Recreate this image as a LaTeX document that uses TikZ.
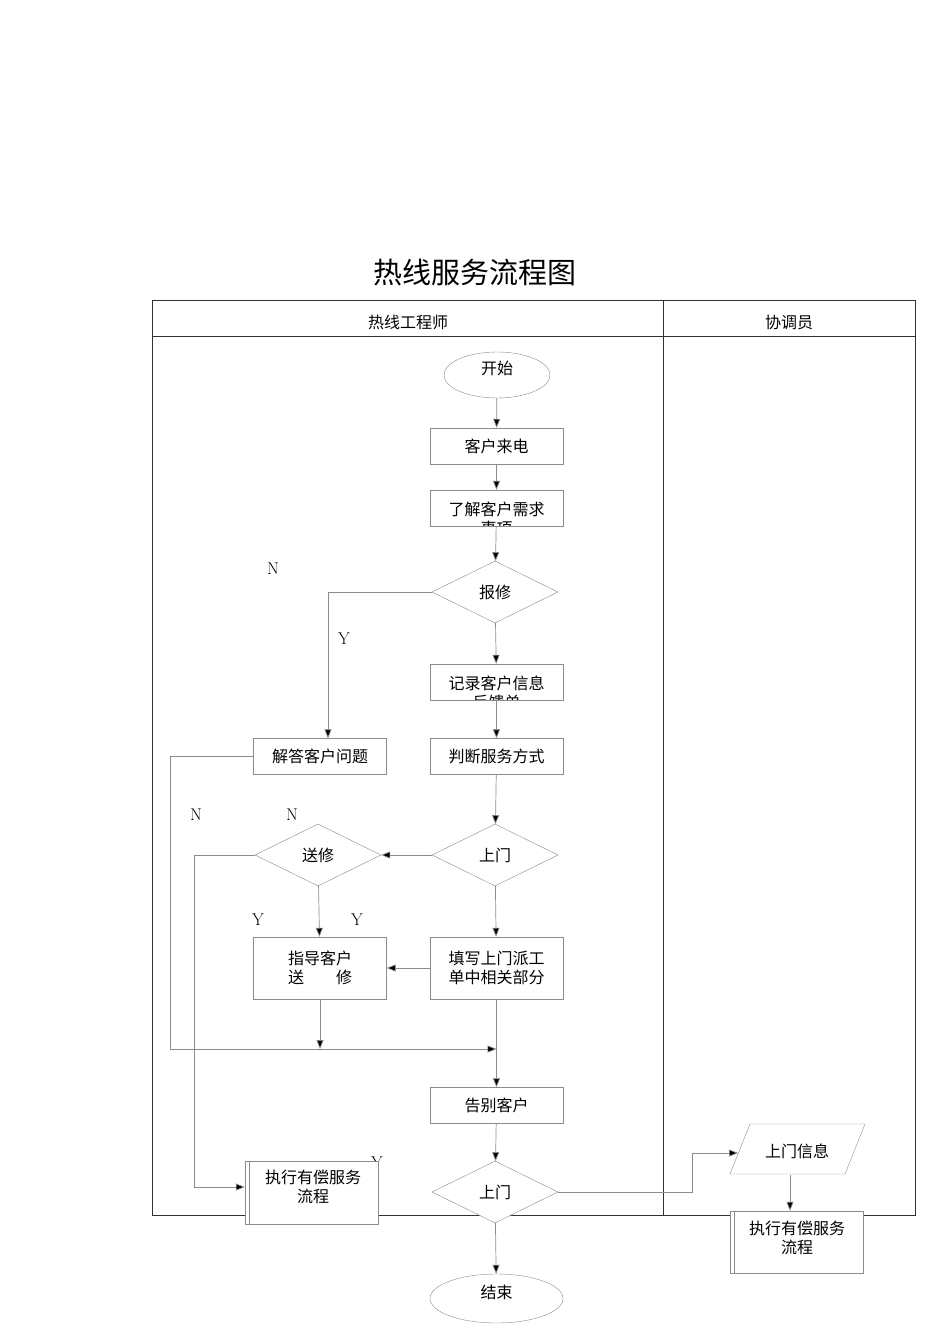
\documentclass[tikz,border=0pt]{standalone}
\usepackage{fontspec}
\newfontfamily\cjk{Noto Sans CJK SC}
\usetikzlibrary{shapes.geometric,arrows.meta}
\begin{document}
\begin{tikzpicture}[x=1pt,y=-1pt,
  every node/.style={font=\cjk\fontsize{16}{19}\selectfont},
  box/.style={draw=black!45,fill=white,minimum width=133pt,minimum height=36pt,inner sep=0pt,align=center},
  dia/.style={diamond,draw=black!45,fill=white,minimum width=126pt,minimum height=62pt,aspect=2,inner sep=0pt},
  ell/.style={ellipse,draw=black!45,fill=white,minimum width=106pt,minimum height=46pt},
  ln/.style={draw=black!45,line width=0.7pt},
  arr/.style={ln,-{Triangle[length=9pt,width=7pt,fill=black]}},
  lbl/.style={font=\fontsize{17}{20}\selectfont}]
\useasboundingbox (0,0) rectangle (950,1344);
\node[font=\cjk\fontsize{29}{34}\selectfont] (title) at (475,273) {热线服务流程图};
\draw[black!80,line width=0.8pt] (152,300) rectangle (915,1215);
\draw[black!80,line width=0.8pt] (152,336) -- (915,336) (663,300) -- (663,1215);
\node (h1) at (408,322) {热线工程师};
\node (h2) at (789,322) {协调员};

\node[ell] (start) at (497,375) {};
\node (startt) at (497,368) {开始};
\node[box] (call) at (496.5,446) {客户来电};
\begin{scope}
\clip (430,490) rectangle (563,526);
\node[box] (need) at (496.5,508) {};
\node[align=center] (needt) at (496.5,519) {了解客户需求\\事项};
\end{scope}
\draw[black!45] (430,490) rectangle (563,526);
\node[dia] (bx) at (495,592) {报修};
\begin{scope}
\clip (430,664) rectangle (563,700);
\node[box] (rec) at (496.5,682) {};
\node[align=center] (rect) at (496.5,693) {记录客户信息\\反馈单};
\end{scope}
\draw[black!45] (430,664) rectangle (563,700);
\node[box] (judge) at (496.5,756.5) {判断服务方式};
\node[box] (ans) at (320,756.5) {解答客户问题};
\node[dia] (sm) at (495,855) {上门};
\node[dia] (sx) at (318,855) {送修};
\node[box,minimum height=62pt] (guide) at (320,968) {指导客户\\送\hspace{2em}修};
\node[box,minimum height=62pt] (fill) at (496.5,968) {填写上门派工\\单中相关部分};
\node[box] (bye) at (496.5,1105.5) {告别客户};
\node[lbl] (ylab) at (377,1163) {Y};
\node[box,minimum height=63pt] (pay1) at (311.5,1192.5) {};
\draw[black!45] (249,1161) -- (249,1224);
\node[align=center] (pay1t) at (313,1187) {执行有偿服务\\流程};
\node[dia] (sm2) at (495,1192) {上门};
\node[ell,minimum width=133pt,minimum height=49pt] (end) at (496.5,1298.5) {};
\node (endt) at (496.5,1292) {结束};
\draw[black!45] (750,1124) -- (865,1124) -- (845,1174) -- (730,1174) -- cycle;
\node (infot) at (797,1151) {上门信息};
\node[box,minimum height=62pt] (pay2) at (797,1242) {};
\draw[black!45] (734,1211) -- (734,1273);
\node[align=center] (pay2t) at (797,1238) {执行有偿服务\\流程};

\node[lbl] (n1) at (273,569) {N};
\node[lbl] (y1) at (344,639) {Y};
\node[lbl] (n2) at (292,815) {N};
\node[lbl] (n3) at (196,815) {N};
\node[lbl] (y2) at (258,920) {Y};
\node[lbl] (y3) at (357,920) {Y};

\coordinate (inl) at (738,1153);
\coordinate (inb) at (790,1175);
\draw[arr] (start) -- (call);
\draw[arr] (call) -- (need);
\draw[arr] (need) -- (bx);
\draw[arr] (bx) -- (rec);
\draw[arr] (rec) -- (judge);
\draw[arr] (bx.west) -| (ans.north -| 328,0);
\draw[arr] (judge) -- (sm);
\draw[arr] (sm) -- (sx);
\draw[arr] (sm) -- (fill);
\draw[arr] (sx) -- (guide);
\draw[arr] (fill.west) -- (guide.east);
\coordinate (j1) at (320,1049);
\coordinate (j2) at (496.5,1049);
\draw[arr] (guide) -- (j1);
\draw[arr] (ans.west) -- (170,756.5) -- (170,1049) -- (j2);
\draw[arr] (fill) -- (bye);
\draw[arr] (sx.west) -- (194,855) -- (194,1187) -- (pay1.west |- 0,1187);
\draw[arr] (bye) -- (sm2);
\draw[arr] (sm2) -- (end);
\draw[arr] (sm2.east) -- (692,1192) -- (692,1153) -- (inl);
\draw[arr] (inb) -- (pay2.north -| inb);
\end{tikzpicture}
\end{document}
